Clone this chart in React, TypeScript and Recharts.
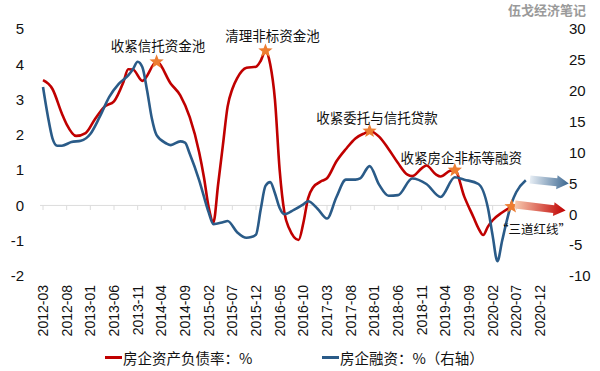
import React from 'react';
import { LineChart, Line, XAxis, YAxis, ReferenceLine, ReferenceDot, Legend } from 'recharts';

// ─── Data ─────────────────────────────────────────────────────────────────────

// monthly categories 2012-03 … 2020-12
const months: string[] = [];
for (let y = 2012; y <= 2020; y++) {
  for (let m = 1; m <= 12; m++) {
    if (y === 2012 && m < 3) continue;
    months.push(`${y}-${String(m).padStart(2, '0')}`);
  }
}

// 房企资产负债率（左轴，%）
const debtRatio: [string, number][] = [
  ['2012-03', 3.55], ['2012-05', 3.3], ['2012-07', 2.6], ['2012-08', 2.3],
  ['2012-10', 1.97], ['2012-12', 2.05], ['2013-02', 2.45], ['2013-04', 2.8],
  ['2013-06', 2.95], ['2013-08', 3.5], ['2013-09', 3.86], ['2013-10', 3.85],
  ['2013-12', 3.53], ['2014-03', 4.07], ['2014-06', 3.45], ['2014-08', 3.12],
  ['2014-10', 2.5], ['2014-12', 1.5], ['2015-01', 0.8], ['2015-02', -0.05],
  ['2015-03', -0.48], ['2015-04', 0.6], ['2015-05', 1.7], ['2015-06', 2.8],
  ['2015-07', 3.3], ['2015-08', 3.6], ['2015-10', 3.9], ['2015-12', 3.93],
  ['2016-01', 4.1], ['2016-02', 4.38], ['2016-03', 4.0], ['2016-04', 3.0],
  ['2016-05', 1.0], ['2016-06', -0.2], ['2016-07', -0.65], ['2016-09', -0.98],
  ['2016-10', -0.5], ['2016-11', 0.2], ['2016-12', 0.5], ['2017-02', 0.7],
  ['2017-03', 0.77], ['2017-05', 1.25], ['2017-07', 1.6], ['2017-09', 1.9],
  ['2017-11', 2.05], ['2017-12', 2.11], ['2018-02', 1.95], ['2018-04', 1.6],
  ['2018-06', 1.2], ['2018-08', 0.87], ['2018-09', 0.83], ['2018-11', 1.05],
  ['2018-12', 1.13], ['2019-02', 0.88], ['2019-03', 0.82], ['2019-05', 0.98],
  ['2019-06', 1.0], ['2019-08', 0.25], ['2019-10', -0.35], ['2019-11', -0.65],
  ['2019-12', -0.84], ['2020-01', -0.6], ['2020-02', -0.42], ['2020-04', -0.2],
  ['2020-06', -0.03],
];

// 房企融资（右轴，%）
const financing: [string, number][] = [
  ['2012-03', 20.6], ['2012-04', 16], ['2012-05', 12.3], ['2012-06', 11.1],
  ['2012-07', 11.1], ['2012-09', 11.7], ['2012-11', 11.9], ['2013-01', 13.0],
  ['2013-03', 15.8], ['2013-05', 19.0], ['2013-07', 21.1], ['2013-09', 22.5],
  ['2013-10', 23.5], ['2013-11', 24.7], ['2013-12', 23.8], ['2014-01', 20.0],
  ['2014-02', 15.5], ['2014-03', 12.8], ['2014-05', 11.5], ['2014-06', 11.2],
  ['2014-08', 11.8], ['2014-09', 11.6], ['2014-10', 9.8], ['2014-12', 5.5],
  ['2015-02', 0.3], ['2015-03', -1.6], ['2015-05', -1.3], ['2015-06', -1.1],
  ['2015-08', -2.9], ['2015-10', -3.8], ['2015-11', -3.7], ['2015-12', -3.3],
  ['2016-01', 0.8], ['2016-02', 4.6], ['2016-03', 5.2], ['2016-04', 3.4],
  ['2016-05', 1.0], ['2016-06', 0.0], ['2016-08', 0.7], ['2016-10', 1.6],
  ['2016-11', 2.1], ['2017-01', 0.9], ['2017-03', -0.7], ['2017-05', 2.8],
  ['2017-07', 5.6], ['2017-09', 5.6], ['2017-10', 5.8], ['2017-12', 7.8],
  ['2018-02', 4.8], ['2018-04', 3.0], ['2018-06', 3.1], ['2018-09', 5.8],
  ['2018-12', 4.9], ['2019-03', 2.8], ['2019-06', 6.0], ['2019-08', 5.6],
  ['2019-11', 4.9], ['2020-01', 1.0], ['2020-02', -3.5], ['2020-03', -7.6],
  ['2020-04', -4.3], ['2020-05', -1.0], ['2020-06', 1.8], ['2020-07', 3.6],
  ['2020-09', 5.5],
];

const leftTicks = [-2, -1, 0, 1, 2, 3, 4, 5];
const rightTicks = [-10, -5, 0, 5, 10, 15, 20, 25, 30];

// policy events marked on the debt-ratio line
const eventMonths = ['2014-03', '2016-02', '2017-12', '2019-06', '2020-06'];
const eventLabels = ['收紧信托资金池', '清理非标资金池', '收紧委托与信托贷款', '收紧房企非标等融资', '“三道红线”'];

// ─── Layout / styles ──────────────────────────────────────────────────────────

const RED = '#c00000';
const BLUE = '#2a5b88';
const STAR = '#ed7d31';
const LATIN = '"Liberation Sans", Arial, sans-serif';
const CJK = '"Noto Sans CJK SC", "Noto Sans", sans-serif';
const labelOffsets = [[1.5, -17], [7, -16], [7.5, -14], [6.5, -13], [22, 22]];
const labelSizes = [13.5, 13.5, 13.5, 13.5, 12.5];

const redMap = new Map(debtRatio);
const blueMap = new Map(financing);
const data = months.map((m) => ({
  month: m,
  ratio: redMap.has(m) ? redMap.get(m) : null,
  fin: blueMap.has(m) ? blueMap.get(m) : null,
}));
const tickMonths = months.filter((_, i) => i % 5 === 0);

function starPath(cx: number, cy: number, R = 7.5, r = 3.2) {
  let d = '';
  for (let k = 0; k < 10; k++) {
    const a = -Math.PI / 2 + (k * Math.PI) / 5;
    const rr = k % 2 === 0 ? R : r;
    d += `${k === 0 ? 'M' : 'L'}${cx + rr * Math.cos(a)},${cy + rr * Math.sin(a)}`;
  }
  return d + 'Z';
}

function MonthTick({ x, y, payload }: any) {
  return (
    <text
      transform={`translate(${x},${y}) rotate(-90)`}
      textAnchor="end"
      dominantBaseline="central"
      fontSize={14}
      fontFamily={LATIN}
      fill="#111"
    >
      {payload.value}
    </text>
  );
}

function ChartLegend() {
  const item = (left: number, color: string, text: string) => (
    <div style={{ position: 'absolute', left, top: 6, display: 'flex', alignItems: 'center' }}>
      <span style={{ width: 17, height: 3, background: color, display: 'inline-block' }} />
      <span style={{ fontFamily: CJK, fontSize: 14.5, color: '#111', marginLeft: 1, whiteSpace: 'nowrap' }}>{text}</span>
    </div>
  );
  return (
    <div style={{ position: 'relative', width: 600, height: 30 }}>
      {item(105, RED, '房企资产负债率：%')}
      {item(322, BLUE, '房企融资：%（右轴）')}
    </div>
  );
}

function Arrow({ x, y, len, angle, id, from, to }: any) {
  return (
    <g transform={`translate(${x},${y}) rotate(${angle})`}>
      <defs>
        <linearGradient id={id} x1="0" y1="0" x2="1" y2="0">
          <stop offset="0%" stopColor={from} />
          <stop offset="100%" stopColor={to} />
        </linearGradient>
      </defs>
      <path
        d={`M0,-4 L${len - 12},-4 L${len - 12},-7 L${len},0 L${len - 12},7 L${len - 12},4 L0,4 Z`}
        fill={`url(#${id})`}
      />
    </g>
  );
}

export default function App() {
  return (
    <div style={{ position: 'absolute', left: 0, top: 0, width: 600, height: 371, background: '#fff', overflow: 'hidden' }}>
      <div style={{ position: 'absolute', right: 14, top: 1, lineHeight: '18px', fontFamily: CJK, fontWeight: 700, fontSize: 13, color: '#9a9a9a' }}>
        伍戈经济笔记
      </div>
      <LineChart width={600} height={371} data={data} margin={{ top: 29, right: 0, bottom: 0, left: 0 }}>
        <XAxis
          dataKey="month"
          interval={4}
          axisLine={false}
          tickLine={false}
          tickMargin={3}
          height={65}
          padding={{ left: 3, right: 5 }}
          tick={<MonthTick />}
        />
        <YAxis
          yAxisId="left"
          domain={[-2, 5]}
          ticks={leftTicks}
          width={40}
          axisLine={false}
          tickLine={false}
          tickMargin={10}
          tick={{ fontSize: 15, fill: '#111', fontFamily: LATIN }}
        />
        <YAxis
          yAxisId="right"
          orientation="right"
          domain={[-10, 30]}
          ticks={rightTicks}
          width={55}
          axisLine={false}
          tickLine={false}
          tickMargin={18}
          tick={{ fontSize: 15, fill: '#111', fontFamily: LATIN, textAnchor: 'start' }}
        />
        <ReferenceLine yAxisId="left" y={0} stroke="#dcdcdc" strokeWidth={1} />
        {tickMonths.map((m) => (
          <ReferenceLine
            key={m}
            yAxisId="left"
            segment={[{ x: m, y: 0 }, { x: m, y: -0.13 }]}
            stroke="#dcdcdc"
          />
        ))}
        <Legend verticalAlign="bottom" height={30} content={<ChartLegend />} />
        <Line
          yAxisId="left"
          type="monotone"
          dataKey="ratio"
          name="房企资产负债率：%"
          stroke={RED}
          strokeWidth={2.6}
          dot={false}
          activeDot={false}
          connectNulls
          isAnimationActive={false}
        />
        <Line
          yAxisId="right"
          type="monotone"
          dataKey="fin"
          name="房企融资：%（右轴）"
          stroke={BLUE}
          strokeWidth={2.6}
          dot={false}
          activeDot={false}
          connectNulls
          isAnimationActive={false}
        />
        {eventMonths.map((m, i) => (
          <ReferenceDot
            key={m}
            yAxisId="left"
            x={m}
            y={redMap.get(m)}
            r={7}
            ifOverflow="visible"
            shape={(p: any) => (
              <g>
                <path d={starPath(p.cx, p.cy)} fill={STAR} />
                <text
                  x={p.cx + labelOffsets[i][0]}
                  y={p.cy + labelOffsets[i][1]}
                  textAnchor="middle"
                  dominantBaseline="central"
                  fontFamily={CJK}
                  fontSize={labelSizes[i]}
                  fill="#111"
                >
                  {eventLabels[i]}
                </text>
              </g>
            )}
          />
        ))}
      </LineChart>
      <svg width={600} height={371} style={{ position: 'absolute', left: 0, top: 0, pointerEvents: 'none' }}>
        <Arrow x={530} y={179.5} len={39} angle={6} id="gBlue" from="#e6edf4" to="#3a6690" />
        <Arrow x={515} y={204.5} len={51} angle={6.8} id="gRed" from="#f7c9ae" to="#c00000" />
      </svg>
    </div>
  );
}
